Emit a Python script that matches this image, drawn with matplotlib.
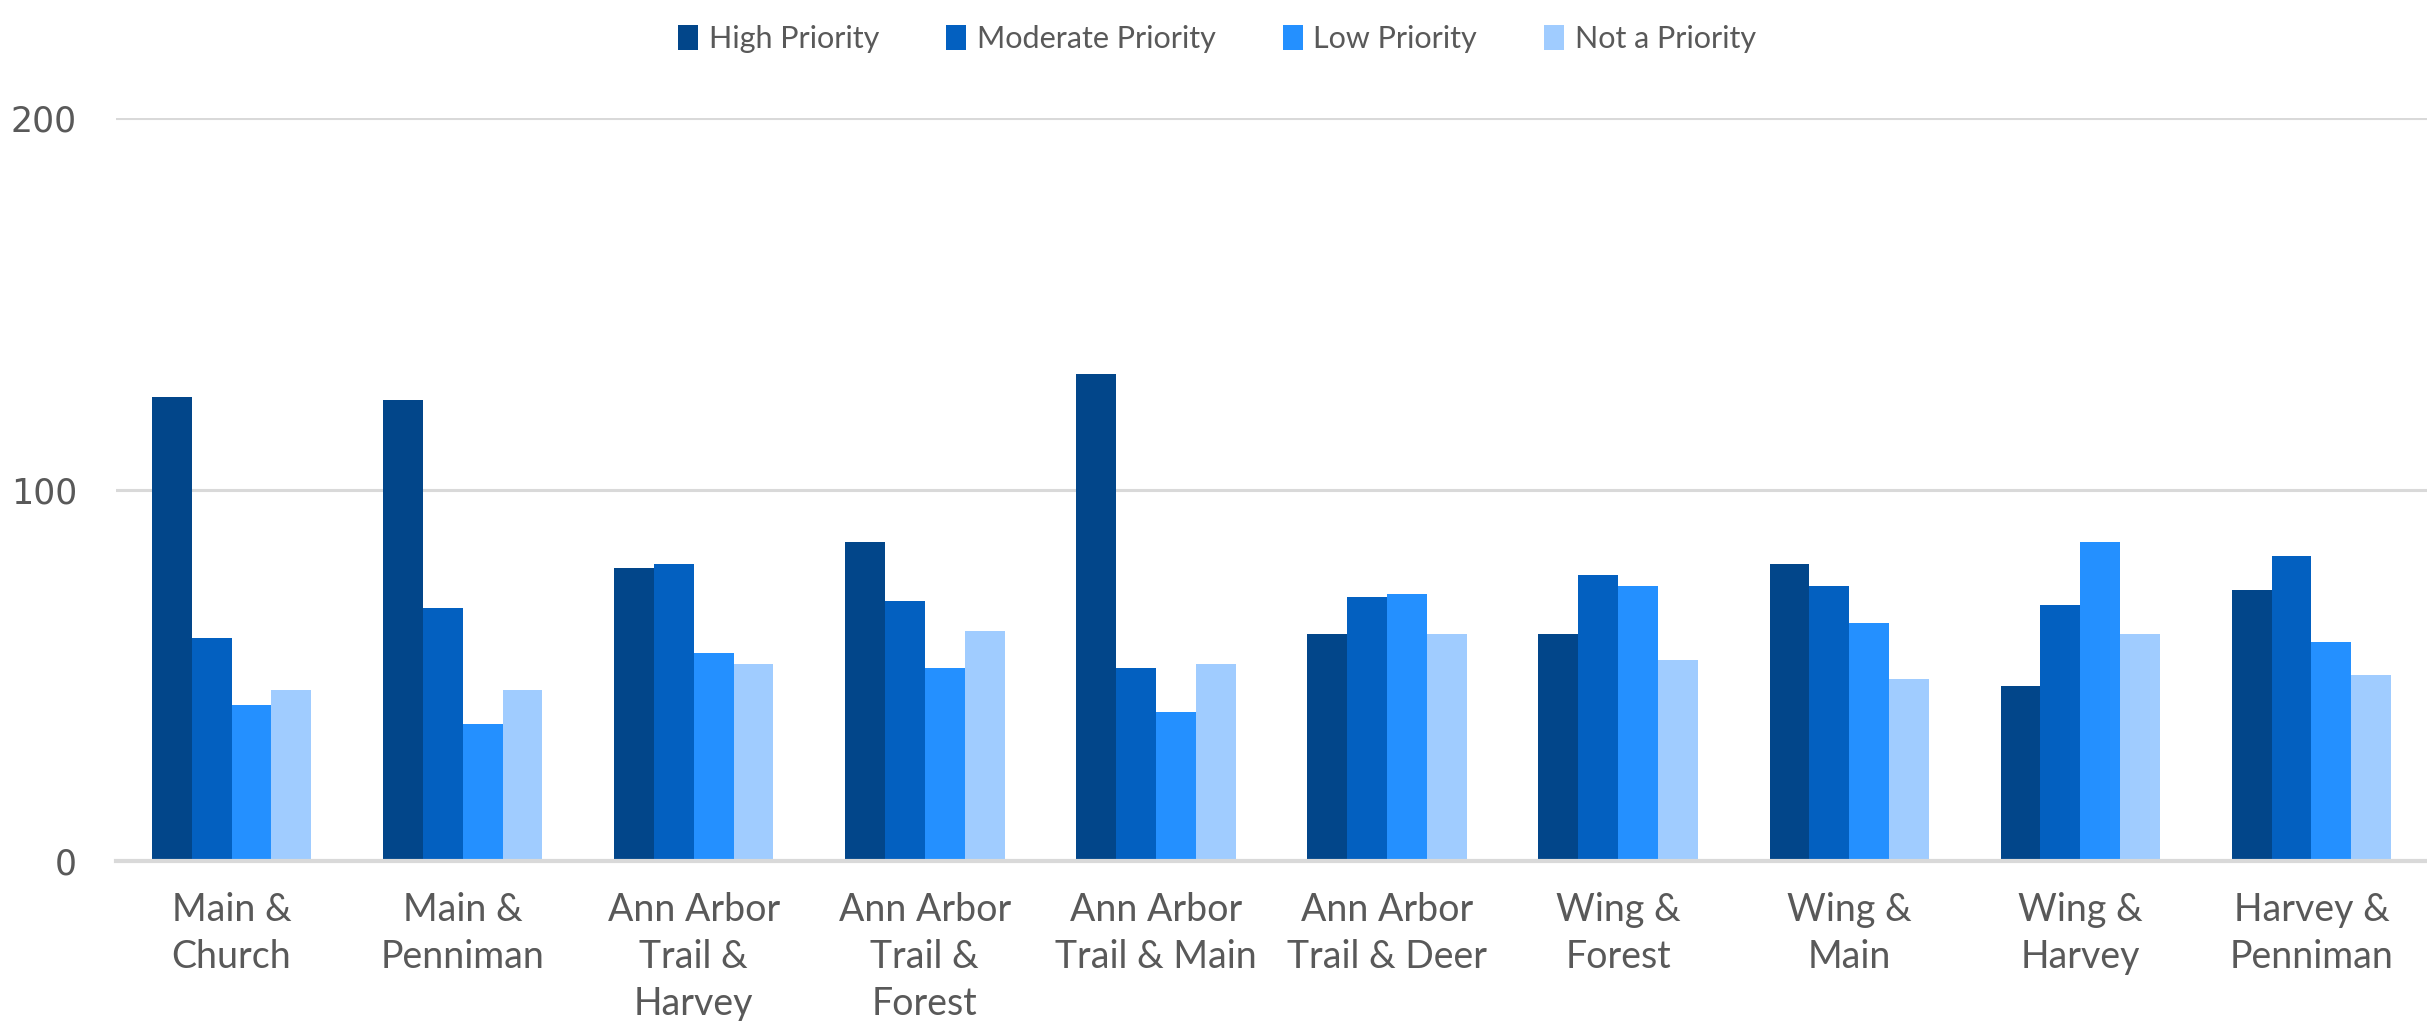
import numpy as np
import matplotlib
matplotlib.use("Agg")
import matplotlib.pyplot as plt

categories = [
    "Main &\nChurch",
    "Main &\nPenniman",
    "Ann Arbor\nTrail &\nHarvey",
    "Ann Arbor\nTrail &\nForest",
    "Ann Arbor\nTrail & Main",
    "Ann Arbor\nTrail & Deer",
    "Wing &\nForest",
    "Wing &\nMain",
    "Wing &\nHarvey",
    "Harvey &\nPenniman",
]

series_names = ["High Priority", "Moderate Priority", "Low Priority", "Not a Priority"]
high_priority = [125, 124, 79, 86, 131, 61, 61, 80, 47, 73]
moderate_priority = [60, 68, 80, 70, 52, 71, 77, 74, 69, 82]
low_priority = [42, 37, 56, 52, 40, 72, 74, 64, 86, 59]
not_a_priority = [46, 46, 53, 62, 53, 61, 54, 49, 61, 50]

y_ticks = [0, 100, 200]

colors = ["#02468A", "#0360C0", "#2490FF", "#A0CCFF"]
text_color = "#595959"
grid_color = "#D9D9D9"

fig = plt.figure(figsize=(24.27, 10.21), dpi=100)
ax = fig.add_axes([0.0478, 0.1567, 0.9522, 0.7277])

series = [high_priority, moderate_priority, low_priority, not_a_priority]
x = np.arange(len(categories))
bar_w = 0.1725
offsets = (np.arange(4) - 1.5) * bar_w

for vals, off, col, name in zip(series, offsets, colors, series_names):
    ax.bar(x + off, vals, width=bar_w, color=col, label=name, zorder=3,
           linewidth=0)

ax.set_xlim(-0.5, len(categories) - 0.5)
ax.set_ylim(0, 200)
ax.set_yticks(y_ticks)
ax.set_yticklabels([str(v) for v in y_ticks], fontsize=25, color=text_color,
                   family="DejaVu Sans")
ax.set_xticks(x)
ax.set_xticklabels(categories, fontsize=27, color=text_color, family="Lato",
                   linespacing=1.38)

ax.tick_params(axis="y", length=0, pad=28)
ax.tick_params(axis="x", length=0, pad=22)

ax.grid(axis="y", color=grid_color, linewidth=2.2, zorder=0)
ax.set_axisbelow(True)
for side in ["top", "right", "left"]:
    ax.spines[side].set_visible(False)
ax.spines["bottom"].set_color(grid_color)
ax.spines["bottom"].set_linewidth(3)
ax.spines["bottom"].set_zorder(4)

leg = fig.legend(loc="center", bbox_to_anchor=(0.5015, 0.962), ncol=4,
                 frameon=False, handlelength=0.65,
                 handleheight=0.9, handletextpad=0.35, columnspacing=2.2,
                 prop={"family": "Lato", "size": 22})
for t in leg.get_texts():
    t.set_color(text_color)

fig.savefig("out.png", dpi=100, facecolor="white")
